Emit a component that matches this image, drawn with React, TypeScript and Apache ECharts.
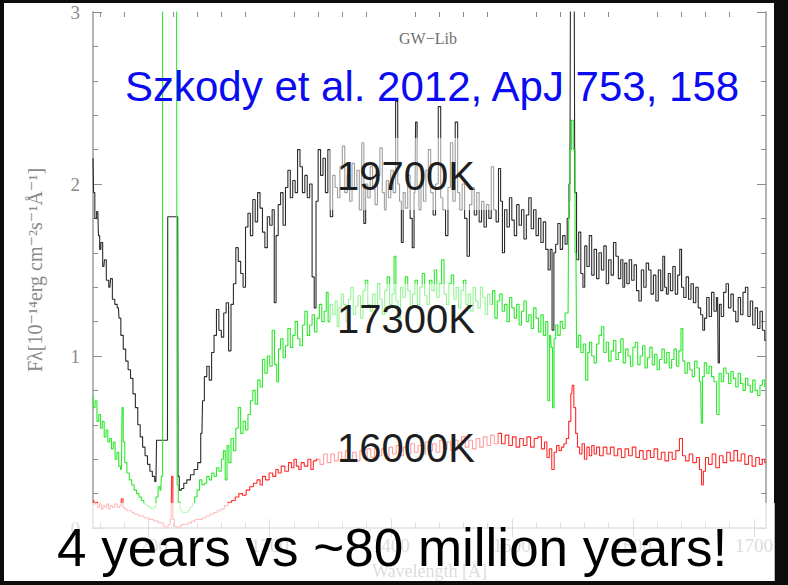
import React, { useEffect, useRef } from "react";
import * as echarts from "echarts";

const X_MIN = 1154;
const X_MAX = 1710;
const xMajorTicks = [1200, 1300, 1400, 1500, 1600, 1700];
const xMinorTicks: number[] = [];
for (let v = 1160; v < X_MAX; v += 20) if (v % 100 !== 0) xMinorTicks.push(v);

const titleText = "GW\u2212Lib";
const citation = "Szkody et al. 2012, ApJ 753, 158";
const tempLabels = ["19700K", "17300K", "16000K"];
const bottomText = "4 years vs ~80 million years!";
const xName = "Wavelength [\u00c5]";
const yName = "F\u03bb[10\u207b\u00b9\u2074erg cm\u207b\u00b2s\u207b\u00b9\u00c5\u207b\u00b9]";

// 19700K spectrum [wavelength Å, flux]
const black19700: number[][] = [
  [1154, 2.15], [1155, 1.95], [1156, 1.8], [1158, 1.84], [1159, 1.7], [1160, 1.62], [1161, 1.66], [1163, 1.52], [1164, 1.56],
  [1166, 1.44], [1168, 1.4], [1169, 1.45], [1171, 1.33], [1173, 1.3], [1175, 1.28], [1176, 1.22], [1178, 1.12], [1180, 1.04],
  [1182, 0.97], [1184, 0.92], [1186, 0.87], [1188, 0.78], [1190, 0.7], [1192, 0.6], [1194, 0.53], [1196, 0.47], [1198, 0.42],
  [1200, 0.37], [1202, 0.33], [1204, 0.3], [1206, 0.27], [1207, 0.51], [1215.5, 0.51], [1216, 1.81], [1224, 1.81], [1224.5, 0.3],
  [1226, 0.22], [1228, 0.23], [1230, 0.26], [1233, 0.28], [1236, 0.31], [1239, 0.34], [1242, 0.38], [1244, 0.55],
  [1245, 0.74], [1247, 0.88], [1249, 0.94], [1251, 0.86], [1253, 1.02], [1255, 1.12], [1257, 1.27], [1259, 1.15], [1261, 1.11],
  [1263, 1.25], [1265, 1.31], [1267, 1.03], [1269, 1.3], [1271, 1.42], [1273, 1.63], [1275, 1.55], [1277, 1.48], [1279, 1.4],
  [1281, 1.75], [1283, 1.83], [1285, 1.7], [1287, 1.91], [1289, 1.78], [1291, 1.95], [1293, 1.86], [1295, 1.72], [1297, 1.63],
  [1299, 1.81], [1301, 1.76], [1303, 1.85], [1304.5, 1.31], [1306, 1.7], [1308, 1.88], [1310, 1.95], [1312, 1.76], [1314, 1.98],
  [1316, 2.08], [1318, 1.92], [1320, 2.02], [1322, 1.95], [1324, 2.2], [1326, 2.1], [1328, 1.95], [1330, 2.05], [1332, 1.92],
  [1334, 2.0], [1336, 1.46], [1337.5, 1.28], [1339, 1.9], [1341, 2.2], [1343, 2.05], [1345, 2.15], [1347, 1.95], [1349, 2.2],
  [1351, 1.81], [1353, 2.05], [1355, 1.98], [1357, 1.92], [1359, 2.1], [1361, 2.22], [1363, 1.95], [1365, 2.05], [1367, 1.9],
  [1369, 2.12], [1371, 1.98], [1373, 2.08], [1375, 1.85], [1377, 2.24], [1378.5, 1.77], [1380, 2.0], [1382, 1.92], [1384, 2.1],
  [1386, 1.97], [1388, 1.88], [1390, 2.05], [1392, 2.21], [1394, 1.95], [1395.5, 1.85], [1397, 2.02], [1399, 1.92], [1401, 2.08],
  [1403, 1.95], [1405, 2.48], [1406.5, 2.0], [1408, 1.9], [1409.5, 1.66], [1411, 1.95], [1413, 1.86], [1415, 2.05], [1417, 1.8],
  [1418.5, 1.63], [1420, 1.95], [1421, 2.36], [1422.5, 1.98], [1424, 1.85], [1426, 2.02], [1428, 1.9], [1430, 2.08], [1432, 2.2],
  [1434, 1.95], [1436, 1.82], [1438, 2.0], [1440.5, 2.45], [1442, 1.92], [1444, 1.85], [1446.5, 1.7], [1448, 1.98], [1450.5, 2.24],
  [1452, 1.9], [1454.5, 2.36], [1456, 1.95], [1458, 1.85], [1460, 2.0], [1462, 1.8], [1464, 1.58], [1466, 1.88], [1468, 1.98],
  [1470, 1.82], [1472, 1.95], [1474, 1.78], [1476, 1.9], [1478, 1.75], [1480, 1.88], [1482, 1.8], [1484, 2.1], [1486, 1.85],
  [1488, 1.78], [1490, 2.09], [1491.5, 1.9], [1493, 1.6], [1495, 1.85], [1497, 1.75], [1499, 1.92], [1501, 1.79], [1503, 1.7],
  [1505, 1.88], [1507, 1.76], [1509, 1.85], [1511, 1.68], [1513, 1.82], [1515, 1.92], [1517, 1.74], [1519, 1.85], [1521, 1.7],
  [1523, 1.8], [1525, 1.66], [1527, 1.78], [1529, 1.62], [1531, 1.5], [1532.5, 1.62], [1534, 1.15], [1535.5, 1.6], [1537, 1.65],
  [1539, 1.77], [1541, 1.62], [1543, 1.7], [1545, 1.65], [1546.5, 1.8], [1548, 2.0], [1549, 3.3], [1551.5, 3.3], [1552.5, 1.95],
  [1554.5, 1.56], [1556, 1.72], [1558, 1.48], [1559.5, 1.4], [1561, 1.64], [1563, 1.52], [1565, 1.7], [1567, 1.47], [1569, 1.62],
  [1571, 1.45], [1573, 1.6], [1575, 1.5], [1577, 1.64], [1579, 1.42], [1581, 1.56], [1583, 1.47], [1585, 1.66], [1587, 1.58],
  [1589, 1.45], [1591, 1.56], [1592.5, 1.4], [1594, 1.54], [1596, 1.42], [1598, 1.56], [1600, 1.44], [1602, 1.53], [1604, 1.38],
  [1606, 1.32], [1608, 1.5], [1610, 1.4], [1612, 1.54], [1614, 1.5], [1616, 1.36], [1618, 1.47], [1620, 1.32], [1622, 1.5],
  [1624, 1.38], [1625.5, 1.58], [1627, 1.4], [1628.5, 1.36], [1630, 1.48], [1632, 1.38], [1634, 1.52], [1636, 1.36], [1638, 1.47],
  [1639.5, 1.62], [1641, 1.4], [1643, 1.34], [1645, 1.46], [1647, 1.33], [1649, 1.42], [1651, 1.31], [1653, 1.4], [1655, 1.28],
  [1657, 1.24], [1658.5, 1.15], [1660, 1.22], [1662, 1.34], [1664, 1.23], [1666, 1.37], [1668, 1.26], [1670, 1.34], [1671, 0.96],
  [1672, 1.3], [1674, 1.23], [1676, 1.37], [1678, 1.42], [1680, 1.28], [1682, 1.36], [1684, 1.26], [1686, 1.2], [1688, 1.34],
  [1690, 1.24], [1692, 1.37], [1694, 1.4], [1696, 1.23], [1698, 1.32], [1700, 1.18], [1702, 1.28], [1704, 1.16], [1706, 1.26],
  [1708, 1.15], [1710, 1.09],
];

// 17300K spectrum
const green17300: number[][] = [
  [1154, 0.77], [1155, 0.7], [1156.5, 0.74], [1158, 0.62], [1159.5, 0.66], [1161, 0.58], [1162.5, 0.62], [1164, 0.53],
  [1165.5, 0.57], [1167, 0.5], [1168.5, 0.52], [1170, 0.46], [1171.5, 0.5], [1173, 0.4], [1174.5, 0.44], [1176, 0.36],
  [1177.5, 0.34], [1178.5, 0.7], [1179.5, 0.5], [1181, 0.38], [1183, 0.32], [1185, 0.28], [1187, 0.25], [1189, 0.22],
  [1191, 0.2], [1193, 0.18], [1195, 0.16], [1197, 0.14], [1199, 0.13], [1201, 0.12], [1203, 0.11], [1205, 0.12], [1207, 0.18],
  [1208.5, 0.24], [1210, 0.22], [1211, 0.3], [1212, 3.3], [1223, 3.3], [1224, 0.25], [1225, 0.15], [1227, 0.1], [1229, 0.09],
  [1231, 0.09], [1233, 0.1], [1235, 0.12], [1237, 0.14], [1239, 0.18], [1241, 0.22], [1243, 0.28], [1245, 0.25], [1247, 0.26],
  [1249, 0.3], [1251, 0.28], [1253, 0.32], [1255, 0.3], [1257, 0.35], [1259, 0.33], [1261, 0.4], [1262.5, 0.45], [1264, 0.28],
  [1265.5, 0.48], [1267, 0.38], [1269, 0.52], [1271, 0.45], [1273, 0.58], [1275, 0.7], [1277, 0.55], [1279, 0.62], [1281, 0.57],
  [1283, 0.66], [1285, 0.74], [1287, 0.8], [1289, 0.72], [1291, 0.86], [1293, 0.82], [1295, 0.98], [1297, 0.9], [1299, 1.0],
  [1301, 0.94], [1303, 1.15], [1305, 0.95], [1306.5, 0.85], [1308, 1.04], [1310, 1.1], [1312, 0.99], [1314, 1.06], [1316, 1.16],
  [1318, 1.05], [1320, 1.12], [1322, 1.2], [1324, 1.1], [1326, 1.06], [1328, 1.18], [1330, 1.26], [1332, 1.12], [1334, 1.18],
  [1336, 1.24], [1338, 1.14], [1340, 1.22], [1342, 1.3], [1344, 1.2], [1346, 1.26], [1347.5, 1.37], [1349, 1.2], [1351, 1.3],
  [1353, 1.24], [1355, 1.32], [1356.5, 1.17], [1358, 1.28], [1360, 1.36], [1362, 1.3], [1364, 1.2], [1366, 1.33], [1368, 1.4],
  [1370, 1.24], [1372, 1.29], [1374, 1.35], [1376, 1.22], [1378, 1.38], [1380, 1.44], [1382, 1.3], [1384, 1.26], [1386, 1.36],
  [1388, 1.28], [1390, 1.42], [1392, 1.33], [1394, 1.24], [1396, 1.38], [1398, 1.46], [1400, 1.3], [1402, 1.36], [1403.5, 1.58],
  [1405, 1.32], [1407, 1.22], [1409, 1.4], [1411, 1.34], [1413, 1.46], [1415, 1.38], [1417, 1.28], [1419, 1.36], [1421, 1.44],
  [1423, 1.3], [1425, 1.4], [1427, 1.48], [1429, 1.35], [1431, 1.3], [1433, 1.44], [1435, 1.38], [1437, 1.5], [1439, 1.34],
  [1441, 1.42], [1443, 1.56], [1445, 1.36], [1447, 1.3], [1449, 1.42], [1451, 1.47], [1453, 1.33], [1455, 1.4], [1457, 1.28],
  [1459, 1.38], [1461, 1.44], [1463, 1.3], [1465, 1.36], [1467, 1.26], [1469, 1.4], [1471, 1.32], [1473, 1.28], [1475, 1.4],
  [1477, 1.34], [1479, 1.24], [1481, 1.36], [1483, 1.3], [1485, 1.38], [1487, 1.22], [1489, 1.32], [1491, 1.36], [1493, 1.26],
  [1495, 1.3], [1497, 1.2], [1499, 1.34], [1501, 1.28], [1503, 1.22], [1505, 1.3], [1507, 1.18], [1509, 1.26], [1511, 1.32],
  [1513, 1.2], [1515, 1.24], [1517, 1.16], [1519, 1.28], [1521, 1.22], [1523, 1.14], [1525, 1.24], [1527, 1.12], [1529, 1.2],
  [1530.5, 0.74], [1532, 1.12], [1533, 1.05], [1534.3, 0.7], [1535.5, 1.1], [1537, 1.18], [1539, 1.12], [1541, 1.2],
  [1543, 1.16], [1545, 1.25], [1546.5, 1.25], [1547.5, 1.9], [1548.5, 2.2], [1550, 2.37], [1551.5, 2.2], [1553, 1.6], [1554, 1.05],
  [1556, 1.12], [1558, 1.02], [1560, 1.07], [1562, 0.86], [1563.5, 1.02], [1565, 1.08], [1567, 1.0], [1569, 0.96], [1571, 1.07],
  [1573, 1.12], [1575, 1.17], [1577, 1.02], [1579, 1.08], [1581, 0.97], [1583, 1.03], [1585, 1.09], [1587, 0.98], [1589, 1.02],
  [1591, 1.1], [1593, 0.96], [1595, 1.04], [1597, 1.0], [1599, 0.94], [1601, 1.05], [1603, 1.08], [1605, 0.95], [1607, 1.0],
  [1609, 1.06], [1611, 0.93], [1613, 0.99], [1615, 1.05], [1617, 0.95], [1619, 1.01], [1621, 0.92], [1623, 0.98], [1625, 1.04],
  [1627, 0.96], [1629, 1.02], [1631, 0.93], [1633, 0.98], [1635, 1.04], [1637, 0.94], [1639, 1.03], [1640.5, 1.16], [1642, 0.97],
  [1644, 0.9], [1646, 0.96], [1648, 0.92], [1650, 0.88], [1652, 0.97], [1654, 0.93], [1656, 0.85], [1657, 0.61], [1658, 0.88],
  [1660, 0.96], [1662, 0.9], [1664, 0.94], [1666, 0.88], [1668, 0.85], [1670.4, 0.66], [1672, 0.9], [1674, 0.85], [1676, 0.93],
  [1678, 0.9], [1680, 0.84], [1682, 0.91], [1684, 0.87], [1686, 0.82], [1688, 0.9], [1690, 0.84], [1692, 0.8], [1694, 0.87],
  [1696, 0.83], [1698, 0.79], [1700, 0.86], [1702, 0.8], [1704, 0.77], [1706, 0.83], [1708, 0.86], [1710, 0.82],
];

// 16000K spectrum
const red16000: number[][] = [
  [1154, 0.16], [1155.5, 0.14], [1157, 0.15], [1158.5, 0.12], [1160, 0.14], [1161.5, 0.11], [1163, 0.13], [1164.5, 0.12],
  [1166, 0.14], [1167.5, 0.11], [1169, 0.13], [1171, 0.12], [1173, 0.14], [1175, 0.12], [1177, 0.13], [1178, 0.17],
  [1179.5, 0.12], [1181, 0.11], [1183, 0.1], [1185, 0.1], [1187, 0.09], [1189, 0.08], [1191, 0.08], [1193, 0.07], [1195, 0.07],
  [1197, 0.06], [1199, 0.06], [1201, 0.05], [1203, 0.05], [1205, 0.04], [1207, 0.04], [1209, 0.03], [1211, 0.03], [1213, 0.01],
  [1215, 0.0], [1217, 0.02], [1218.5, 0.05], [1219.5, 0.3], [1220.5, 0.05], [1222, 0.01], [1224, 0.0], [1226, 0.01],
  [1228, 0.02], [1231, 0.02], [1234, 0.03], [1237, 0.04], [1240, 0.05], [1243, 0.05], [1246, 0.06], [1249, 0.07], [1252, 0.08],
  [1255, 0.09], [1258, 0.1], [1261, 0.11], [1264, 0.13], [1267, 0.15], [1270, 0.16], [1273, 0.18], [1276, 0.2], [1279, 0.19],
  [1282, 0.22], [1285, 0.24], [1288, 0.26], [1291, 0.28], [1293, 0.25], [1295, 0.3], [1298, 0.28], [1301, 0.32], [1304, 0.3],
  [1306, 0.34], [1308, 0.32], [1311, 0.36], [1314, 0.33], [1317, 0.38], [1319, 0.35], [1321, 0.4], [1323, 0.36], [1325, 0.34],
  [1327, 0.38], [1330, 0.36], [1333, 0.4], [1335, 0.34], [1337, 0.39], [1340, 0.4], [1343, 0.37], [1346, 0.43], [1349, 0.38],
  [1352, 0.43], [1355, 0.39], [1358, 0.44], [1361, 0.4], [1364, 0.45], [1367, 0.4], [1370, 0.44], [1373, 0.39], [1376, 0.45],
  [1379, 0.41], [1382, 0.46], [1385, 0.41], [1388, 0.47], [1391, 0.42], [1394, 0.46], [1397, 0.41], [1400, 0.47], [1403, 0.43],
  [1406, 0.48], [1409, 0.42], [1412, 0.47], [1415, 0.43], [1418, 0.49], [1421, 0.44], [1424, 0.48], [1427, 0.43], [1430, 0.5],
  [1433, 0.45], [1436, 0.49], [1439, 0.44], [1442, 0.51], [1445, 0.46], [1448, 0.5], [1451, 0.45], [1454, 0.51], [1457, 0.47],
  [1460, 0.53], [1463, 0.47], [1466, 0.51], [1469, 0.46], [1472, 0.52], [1475, 0.47], [1478, 0.53], [1481, 0.48], [1484, 0.54],
  [1487, 0.49], [1490, 0.55], [1493, 0.49], [1496, 0.54], [1499, 0.48], [1502, 0.53], [1505, 0.47], [1508, 0.52], [1511, 0.48],
  [1514, 0.53], [1517, 0.47], [1520, 0.52], [1523, 0.53], [1526, 0.46], [1528, 0.5], [1530, 0.41], [1532, 0.46], [1534, 0.34],
  [1536, 0.44], [1538, 0.48], [1540, 0.45], [1542, 0.47], [1544, 0.49], [1546, 0.52], [1548, 0.62], [1549.5, 0.78],
  [1550.5, 0.83], [1552, 0.7], [1553.5, 0.55], [1555, 0.47], [1557, 0.43], [1559, 0.49], [1561, 0.4], [1563, 0.47], [1565, 0.42],
  [1567, 0.48], [1569, 0.43], [1571, 0.47], [1574, 0.42], [1577, 0.47], [1580, 0.43], [1583, 0.47], [1586, 0.42], [1589, 0.46],
  [1592, 0.41], [1595, 0.46], [1598, 0.42], [1601, 0.47], [1604, 0.41], [1607, 0.45], [1610, 0.4], [1613, 0.45], [1616, 0.41],
  [1619, 0.46], [1622, 0.4], [1625, 0.44], [1628, 0.39], [1631, 0.44], [1634, 0.4], [1637, 0.45], [1640, 0.52], [1642, 0.42],
  [1645, 0.39], [1648, 0.43], [1651, 0.38], [1654, 0.41], [1656, 0.34], [1657.5, 0.25], [1659, 0.33], [1661, 0.41], [1664, 0.37],
  [1667, 0.43], [1670, 0.35], [1673, 0.42], [1676, 0.38], [1679, 0.44], [1682, 0.39], [1685, 0.45], [1688, 0.39], [1691, 0.43],
  [1694, 0.37], [1697, 0.42], [1700, 0.36], [1703, 0.41], [1706, 0.37], [1708, 0.4], [1710, 0.38],
];

const SERIF = '"Liberation Serif", "DejaVu Serif", serif';
const SANS = '"Liberation Sans", Arial, sans-serif';
const AXIS_GRAY = "#b4b4b4";
const TICK_GRAY = "#8c8c8c";
const plainNumber = (v: number) => String(v);

function textEl(text: string, x: number, y: number, size: number, fill: string, family: string, align = "left") {
  return {
    type: "text",
    x,
    y,
    z: 120,
    style: {
      text,
      fill,
      fontSize: size,
      fontFamily: family,
      textAlign: align,
      align,
      textVerticalAlign: "middle",
      verticalAlign: "middle",
    },
  };
}

function boxEl(x: number, y: number, w: number, h: number, alpha: number) {
  return {
    type: "rect",
    z: 110,
    shape: { x, y, width: w, height: h },
    style: { fill: `rgba(255,255,255,${alpha})` },
  };
}

export default function App() {
  const ref = useRef<HTMLDivElement>(null);
  useEffect(() => {
    if (!ref.current) return;
    const chart = echarts.init(ref.current, undefined, { renderer: "svg" });
    const grid = { left: 93, top: 12, width: 673, height: 516, containLabel: false, outerBoundsMode: "none" };
    const xBase = { type: "value", min: X_MIN, max: X_MAX, splitLine: { show: false } };
    const yBase = { type: "value", min: 0, max: 3, interval: 1, splitLine: { show: false } };
    const option: any = {
      animation: false,
      backgroundColor: "transparent",
      grid: [grid, { ...grid }],
      xAxis: [
        {
          ...xBase, gridIndex: 0, position: "bottom",
          axisLine: { show: true, lineStyle: { color: AXIS_GRAY, width: 2 } },
          axisTick: { show: true, inside: true, length: 9, customValues: xMajorTicks, lineStyle: { color: TICK_GRAY } },
          axisLabel: {
            show: true, customValues: xMajorTicks, formatter: plainNumber, margin: 8,
            color: "#8a8a8a", fontSize: 19, fontFamily: SERIF,
          },
          name: xName, nameLocation: "middle", nameGap: 34,
          nameTextStyle: { color: "#8a8a8a", fontSize: 18, fontFamily: SERIF },
        },
        {
          ...xBase, gridIndex: 0, position: "top",
          axisLine: { show: true, lineStyle: { color: AXIS_GRAY, width: 2 } },
          axisTick: { show: true, inside: true, length: 9, customValues: xMajorTicks, lineStyle: { color: TICK_GRAY } },
          axisLabel: { show: false },
        },
        {
          ...xBase, gridIndex: 1, position: "bottom",
          axisLine: { show: false },
          axisTick: { show: true, inside: true, length: 5, customValues: xMinorTicks, lineStyle: { color: TICK_GRAY } },
          axisLabel: { show: false },
        },
        {
          ...xBase, gridIndex: 1, position: "top",
          axisLine: { show: false },
          axisTick: { show: true, inside: true, length: 5, customValues: xMinorTicks, lineStyle: { color: TICK_GRAY } },
          axisLabel: { show: false },
        },
      ],
      yAxis: [
        {
          ...yBase, gridIndex: 0, position: "left",
          axisLine: { show: true, lineStyle: { color: AXIS_GRAY, width: 2 } },
          axisTick: { show: true, inside: true, length: 9, lineStyle: { color: TICK_GRAY } },
          minorTick: { show: true, splitNumber: 5, length: 5, lineStyle: { color: TICK_GRAY } },
          axisLabel: { show: true, formatter: plainNumber, margin: 13, color: "#8a8a8a", fontSize: 19, fontFamily: SERIF },
          name: yName,
          nameLocation: "middle", nameGap: 48, nameRotate: 90,
          nameTextStyle: { color: "#8a8a8a", fontSize: 20, fontFamily: SERIF },
        },
        {
          ...yBase, gridIndex: 0, position: "right",
          axisLine: { show: true, lineStyle: { color: AXIS_GRAY, width: 2 } },
          axisTick: { show: true, inside: true, length: 9, lineStyle: { color: TICK_GRAY } },
          minorTick: { show: true, splitNumber: 5, length: 5, lineStyle: { color: TICK_GRAY } },
          axisLabel: { show: false },
        },
        { ...yBase, gridIndex: 1, position: "left", axisLine: { show: false }, axisTick: { show: false }, axisLabel: { show: false } },
      ],
      series: [
        {
          type: "line", xAxisIndex: 0, yAxisIndex: 0, data: black19700, step: "middle", showSymbol: false, silent: true,
          lineStyle: { color: "#2b2b2b", width: 1.1 },
        },
        {
          type: "line", xAxisIndex: 0, yAxisIndex: 0, data: green17300, step: "middle", showSymbol: false, silent: true,
          lineStyle: { color: "#2ee82e", width: 1.1 },
        },
        {
          type: "line", xAxisIndex: 0, yAxisIndex: 0, data: red16000, step: "middle", showSymbol: false, silent: true,
          lineStyle: { color: "#ff2a2a", width: 1.1 },
        },
      ],
      graphic: [
        textEl(titleText, 428, 38, 16, "#6e6e6e", SERIF, "center"),
        textEl(citation, 125, 86, 42, "#0b0bf2", SANS),
        boxEl(330, 138, 167, 72, 0.55),
        textEl(tempLabels[0], 337, 176, 40, "#1e1e1e", SANS),
        boxEl(330, 284, 162, 70, 0.5),
        textEl(tempLabels[1], 337, 319, 40, "#1e1e1e", SANS),
        boxEl(318, 413, 180, 68, 0.55),
        textEl(tempLabels[2], 337, 448, 40, "#1e1e1e", SANS),
        boxEl(35, 503, 740, 78, 0.7),
        textEl(bottomText, 57, 547, 53, "#000000", SANS),
      ],
    };
    chart.setOption(option);
    return () => chart.dispose();
  }, []);
  return (
    <div style={{ position: "fixed", left: 0, top: 0, width: 788, height: 585, background: "#0c0c0c", overflow: "hidden" }}>
      <div style={{ position: "absolute", left: 4, top: 3, width: 770, height: 578, background: "#ffffff" }} />
      <div ref={ref} style={{ position: "absolute", left: 0, top: 0, width: 788, height: 585 }} />
    </div>
  );
}
